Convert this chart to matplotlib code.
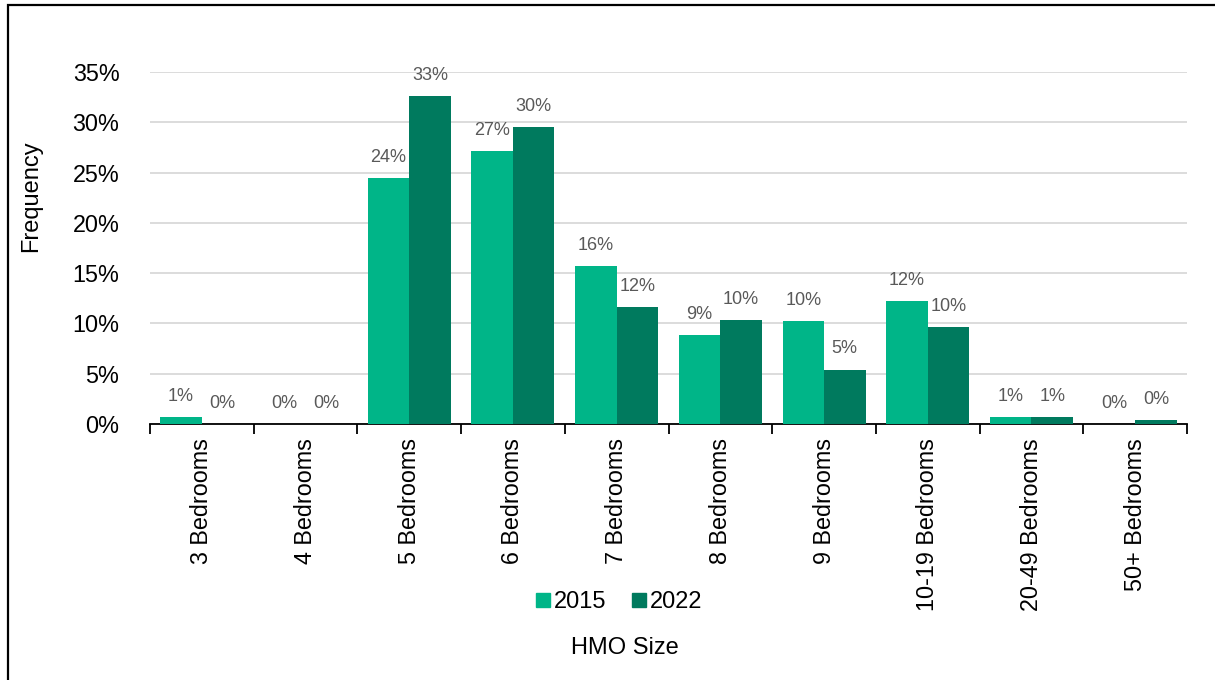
import matplotlib
matplotlib.use("Agg")
import matplotlib.pyplot as plt
import numpy as np
from matplotlib.patches import Rectangle
from matplotlib.lines import Line2D

categories = ["3 Bedrooms", "4 Bedrooms", "5 Bedrooms", "6 Bedrooms", "7 Bedrooms",
              "8 Bedrooms", "9 Bedrooms", "10-19 Bedrooms", "20-49 Bedrooms", "50+ Bedrooms"]
series_names = ["2015", "2022"]
values_2015 = [0.7, 0.0, 24.45, 27.1, 15.7, 8.85, 10.2, 12.2, 0.7, 0.0]
values_2022 = [0.0, 0.0, 32.6, 29.5, 11.6, 10.3, 5.4, 9.6, 0.7, 0.35]
yticks = [0, 5, 10, 15, 20, 25, 30, 35]

colors = ["#00B588", "#007A5E"]

plt.rcParams['font.family'] = ['Liberation Sans', 'DejaVu Sans']

fig = plt.figure(figsize=(12.15, 6.8), dpi=100)
ax = fig.add_axes([150/1215, 1-424/680, (1187-150)/1215, (424-72)/680])

x = np.arange(len(categories))
w = 0.4
for i, (vals, name, c) in enumerate(zip([values_2015, values_2022], series_names, colors)):
    pos = x + (i - 0.5) * w
    ax.bar(pos, vals, width=w, color=c, label=name, zorder=3)
    for xp, v in zip(pos, vals):
        ax.annotate(f"{int(v + 0.5)}%", (xp, v), xytext=(0, 15), textcoords="offset points",
                    ha="center", va="center", fontsize=13, color="#595959")

ax.set_xlim(-0.5, len(categories) - 0.5)
ax.set_ylim(0, 35)
ax.set_yticks(yticks)
ax.set_yticklabels([f"{t}%" for t in yticks], fontsize=16.8)
ax.yaxis.grid(True, color="#D9D9D9", linewidth=1.3, zorder=0)
ax.set_axisbelow(True)
ax.tick_params(axis='y', length=0, pad=22)

ax.set_xticks(x)
ax.set_xticklabels(categories, rotation=90, fontsize=16.8)
ax.tick_params(axis='x', which='major', length=0, pad=10)
ax.set_xticks(np.arange(-0.5, len(categories), 1), minor=True)
ax.tick_params(axis='x', which='minor', length=7, width=1.3, color="black")

for s in ["top", "right", "left"]:
    ax.spines[s].set_visible(False)
ax.spines["bottom"].set_color("black")
ax.spines["bottom"].set_linewidth(1.3)

fig.text(31/1215, 1-196/680, "Frequency", rotation=90, ha="center", va="center", fontsize=17)

handles = [Line2D([0], [0], marker='s', linestyle='None', markersize=10,
                  markerfacecolor=c, markeredgecolor=c) for c in colors]
fig.legend(handles, series_names, loc="center", bbox_to_anchor=(618/1215, 1-602/680),
           ncol=2, frameon=False, fontsize=17, handletextpad=0.05, columnspacing=1.0,
           handlelength=0.8)

fig.text(625/1215, 1-648/680, "HMO Size", ha="center", va="center", fontsize=17)

fig.patches.append(Rectangle((8/1215, -0.05), 1.2, 1-5/680 + 0.05, transform=fig.transFigure,
                             fill=False, edgecolor="black", linewidth=1.6))

fig.savefig("out.png", dpi=100)
